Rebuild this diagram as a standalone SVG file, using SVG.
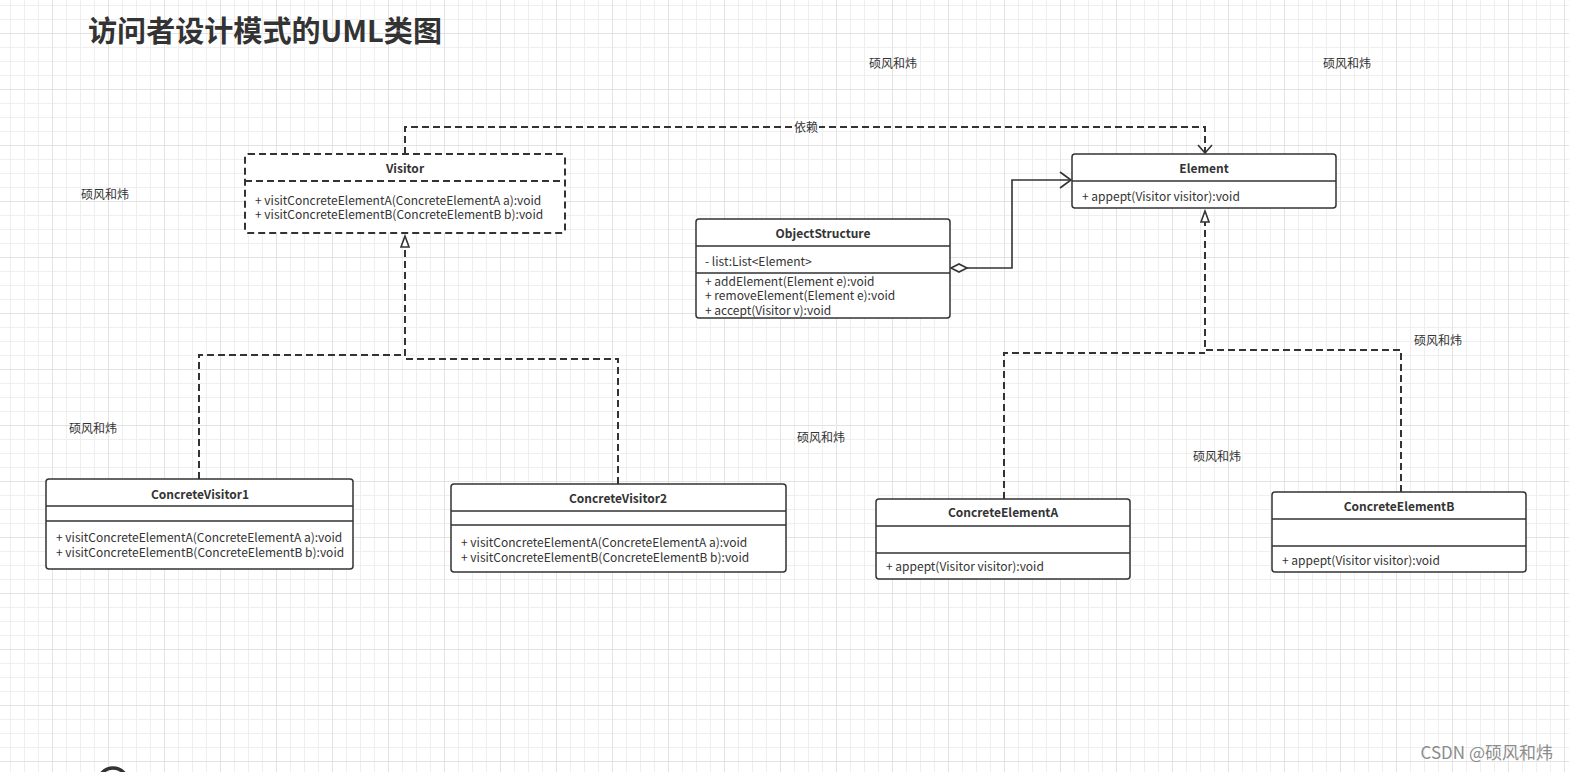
<svg xmlns="http://www.w3.org/2000/svg" width="1569" height="772" viewBox="0 0 1569 772">
<defs>
<pattern id="grid" x="10" y="5" width="56" height="56" patternUnits="userSpaceOnUse">
<path d="M0.5 0V56M14.5 0V56M28.5 0V56M0 0.5H56M0 14.5H56M0 42.5H56" stroke="#efefef" stroke-width="1" fill="none"/>
<path d="M42.5 0V56M0 28.5H56" stroke="#e3e3e3" stroke-width="1" fill="none"/>
</pattern>
<style>
text{font-family:"Noto Sans CJK SC","Noto Sans",sans-serif;fill:#333;font-size:12px}
.t{font-weight:bold;text-anchor:middle}
.box{fill:#fff;stroke:#333;stroke-width:1.5}
.dbox{fill:#fff;stroke:#333;stroke-width:2;stroke-dasharray:7 4}
.div{stroke:#333;stroke-width:1.5;fill:none}
.ddiv{stroke:#333;stroke-width:2;fill:none;stroke-dasharray:7 4}
.dash{stroke:#333;stroke-width:2;fill:none;stroke-dasharray:7 4}
.solid{stroke:#333;stroke-width:1.6;fill:none}
.open{stroke:#333;stroke-width:1.6;fill:none}
.tri{stroke:#333;stroke-width:1.6;fill:#fff}
.lbl{text-anchor:middle}
</style>
</defs>
<rect width="1569" height="772" fill="#fff"/>
<rect width="1569" height="772" fill="url(#grid)"/>

<text x="88" y="42" style="font-size:29px;font-weight:bold" textLength="354" lengthAdjust="spacingAndGlyphs">访问者设计模式的UML类图</text>

<g id="labels">
<text class="lbl" x="893" y="68">硕风和炜</text>
<text class="lbl" x="1347" y="68">硕风和炜</text>
<text class="lbl" x="105" y="199">硕风和炜</text>
<text class="lbl" x="93" y="433">硕风和炜</text>
<text class="lbl" x="821" y="442">硕风和炜</text>
<text class="lbl" x="1438" y="345">硕风和炜</text>
<text class="lbl" x="1217" y="461">硕风和炜</text>
</g>

<g id="connectors">
<path class="dash" d="M405 154V127H1205V152"/>
<path class="open" d="M1198 145L1205 153L1212 145"/>
<rect x="793" y="120" width="26" height="14" fill="#fff"/>
<text class="lbl" x="806" y="132">依赖</text>

<path class="solid" d="M967 268H1012V180H1071"/>
<path class="open" d="M1060 172L1071 180L1060 188"/>
<polygon class="tri" points="951,268 959,264 967,268 959,272"/>

<path class="dash" d="M199 479V355H405"/>
<path class="dash" d="M618 484V359H405V247"/>
<polygon class="tri" points="405,236 401,247 409,247"/>

<path class="dash" d="M1004 499V353H1205"/>
<path class="dash" d="M1401 492V350H1205V222"/>
<polygon class="tri" points="1205,211 1201,222 1209,222"/>
</g>

<g id="Visitor">
<rect class="dbox" x="245" y="154" width="320" height="79" rx="3"/>
<path class="ddiv" d="M245 181H565"/>
<text class="t" x="405" y="173">Visitor</text>
<text x="255" y="205">+ visitConcreteElementA(ConcreteElementA a):void</text>
<text x="255" y="219">+ visitConcreteElementB(ConcreteElementB b):void</text>
</g>

<g id="Element">
<rect class="box" x="1072" y="154" width="264" height="54" rx="3"/>
<path class="div" d="M1072 181H1336"/>
<text class="t" x="1204" y="173">Element</text>
<text x="1082" y="201">+ appept(Visitor visitor):void</text>
</g>

<g id="ObjectStructure">
<rect class="box" x="696" y="219" width="254" height="99" rx="3"/>
<path class="div" d="M696 246H950M696 273H950"/>
<text class="t" x="823" y="238">ObjectStructure</text>
<text x="705" y="266">- list:List&lt;Element&gt;</text>
<text x="705" y="286">+ addElement(Element e):void</text>
<text x="705" y="300">+ removeElement(Element e):void</text>
<text x="705" y="315">+ accept(Visitor v):void</text>
</g>

<g id="ConcreteVisitor1">
<rect class="box" x="46" y="479" width="307" height="90" rx="3"/>
<path class="div" d="M46 506H353M46 521H353"/>
<text class="t" x="200" y="499">ConcreteVisitor1</text>
<text x="56" y="542">+ visitConcreteElementA(ConcreteElementA a):void</text>
<text x="56" y="557">+ visitConcreteElementB(ConcreteElementB b):void</text>
</g>

<g id="ConcreteVisitor2">
<rect class="box" x="451" y="484" width="335" height="88" rx="3"/>
<path class="div" d="M451 511H786M451 525H786"/>
<text class="t" x="618" y="503">ConcreteVisitor2</text>
<text x="461" y="547">+ visitConcreteElementA(ConcreteElementA a):void</text>
<text x="461" y="562">+ visitConcreteElementB(ConcreteElementB b):void</text>
</g>

<g id="ConcreteElementA">
<rect class="box" x="876" y="499" width="254" height="80" rx="3"/>
<path class="div" d="M876 526H1130M876 553H1130"/>
<text class="t" x="1003" y="517">ConcreteElementA</text>
<text x="886" y="571">+ appept(Visitor visitor):void</text>
</g>

<g id="ConcreteElementB">
<rect class="box" x="1272" y="492" width="254" height="80" rx="3"/>
<path class="div" d="M1272 519H1526M1272 546H1526"/>
<text class="t" x="1399" y="511">ConcreteElementB</text>
<text x="1282" y="565">+ appept(Visitor visitor):void</text>
</g>

<circle cx="113" cy="783" r="15" fill="none" stroke="#333" stroke-width="3.5"/>
<text x="1553" y="759" style="font-size:17px;fill:#8c8c8c;text-anchor:end">CSDN @硕风和炜</text>
</svg>
